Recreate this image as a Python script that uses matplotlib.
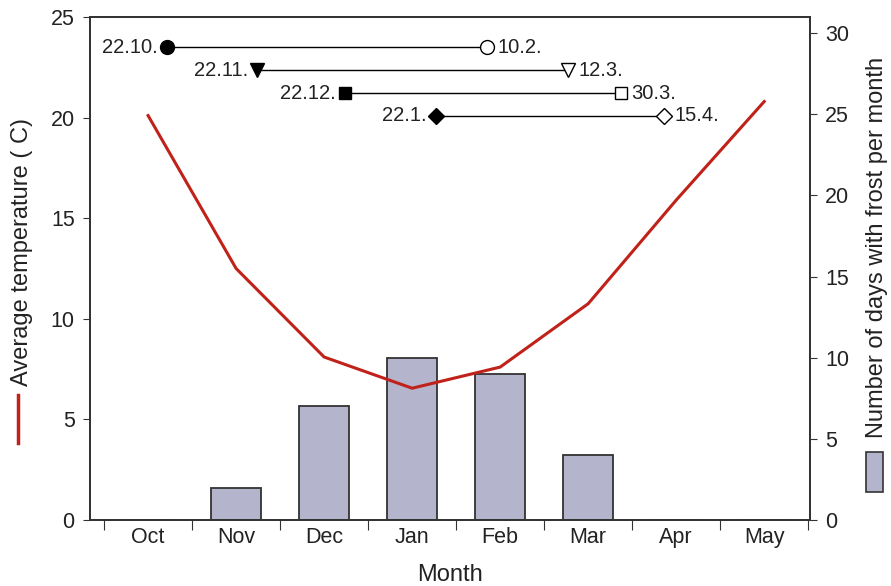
import numpy as np
import matplotlib
matplotlib.use("Agg")
import matplotlib.pyplot as plt
from matplotlib.lines import Line2D
from matplotlib.patches import Rectangle

plt.rcParams['font.family'] = ['Liberation Sans', 'DejaVu Sans']

# data
months = ["Oct", "Nov", "Dec", "Jan", "Feb", "Mar", "Apr", "May"]
temp = [20.1, 12.5, 8.1, 6.55, 7.6, 10.75, 15.9, 20.8]   # average temperature (C)
frost = [0, 2, 7, 10, 9, 4, 0, 0]                         # days with frost per month

# frost periods, positions in month units (0 = middle of Oct)
period_start = [0.21, 1.24, 2.24, 3.27]
period_end = [3.85, 4.77, 5.37, 5.86]
period_row = [23.5, 22.35, 21.2, 20.1]
start_labels = ["22.10.", "22.11.", "22.12.", "22.1."]
end_labels = ["10.2.", "12.3.", "30.3.", "15.4."]
period_markers = ["o", "v", "s", "D"]
marker_sizes = [10, 9.5, 8, 8.5]

bar_color = "#b4b4cc"
line_color = "#c0221a"
spine_color = "#333333"
text_color = "#222222"

fig = plt.figure(figsize=(8.91, 5.86), dpi=100)
ax = fig.add_axes([90 / 891, 66 / 586, 720 / 891, 503 / 586])
ax2 = ax.twinx()
ax.set_zorder(2)
ax.patch.set_visible(False)

x = np.arange(len(months))

# bars on right axis
ax2.bar(x, frost, width=0.57, color=bar_color, edgecolor=spine_color, linewidth=1.3)
ax2.set_ylim(0, 31)
ax2.set_yticks(range(0, 31, 5))

# temperature line on left axis
ax.plot(x, temp, color=line_color, lw=2.2)
ax.set_ylim(0, 25)
ax.set_yticks(range(0, 26, 5))
ax.set_xlim(-0.66, 7.52)

# frost period timelines
for s, e, r, m, ms, sl, el in zip(period_start, period_end, period_row, period_markers,
                                  marker_sizes, start_labels, end_labels):
    ax.plot([s, e], [r, r], color="black", lw=1.0, zorder=3)
    ax.plot(s, r, marker=m, ms=ms, color="black", mec="black", zorder=4)
    ax.plot(e, r, marker=m, ms=ms, mfc="white", mec="black", mew=1.0, zorder=4)
    ax.annotate(sl, (s, r), xytext=(-6.5, 0), textcoords="offset points",
                ha="right", va="center", fontsize=14.5, color=text_color)
    ax.annotate(el, (e, r), xytext=(7.5, 0), textcoords="offset points",
                ha="left", va="center", fontsize=14.5, color=text_color)

# x axis: ticks between months, labels centred
ax.set_xticks(np.arange(-0.5, 8, 1))
ax.set_xticklabels([])
ax.set_xticks(x, minor=True)
ax.set_xticklabels(months, minor=True, fontsize=15.5, color=text_color)
ax.tick_params(axis="x", which="major", length=7, direction="out", color=spine_color)
ax.tick_params(axis="x", which="minor", length=0, pad=5)

ax.tick_params(axis="y", length=5, labelsize=15.5, color=spine_color, labelcolor=text_color, pad=6)
ax2.tick_params(axis="y", length=5, labelsize=15.5, color=spine_color, labelcolor=text_color, pad=6)

for a in (ax, ax2):
    for sp in a.spines.values():
        sp.set_color(spine_color)
        sp.set_linewidth(1.3)

# axis titles with little legend keys
fig.text(450 / 891, 1 - 575 / 586, "Month", ha="center", va="center",
         fontsize=17, color=text_color)
fig.text(22 / 891, 1 - 252 / 586, "Average temperature ( C)", rotation=90,
         ha="center", va="center", fontsize=17, color=text_color)
fig.add_artist(Line2D([18 / 891, 18 / 891], [1 - 395 / 586, 1 - 443 / 586],
                      color=line_color, lw=2.5))
fig.text(877 / 891, 1 - 247 / 586, "Number of days with frost per month", rotation=90,
         ha="center", va="center", fontsize=17, color=text_color)
fig.add_artist(Rectangle((866 / 891, 1 - 492 / 586), 17 / 891, 40 / 586,
                         facecolor=bar_color, edgecolor=spine_color, lw=1.2,
                         transform=fig.transFigure))

fig.savefig("out.png", dpi=100)
